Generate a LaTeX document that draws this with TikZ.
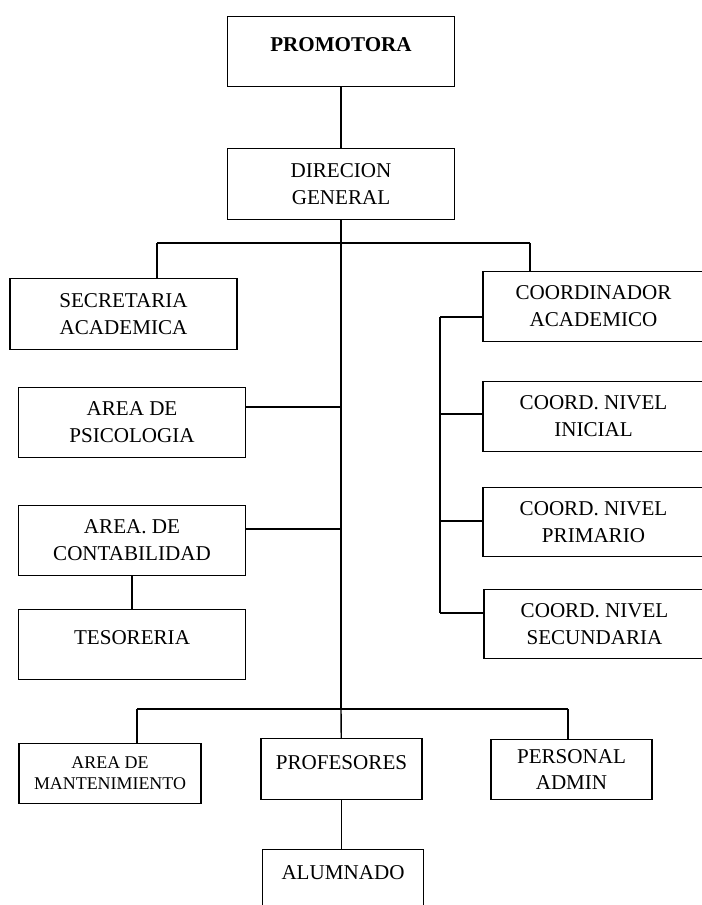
\documentclass[tikz,border=0pt]{standalone}
\usepackage{fontspec}
\setmainfont{Liberation Serif}

\tikzset{
	cargo/.style={rectangle, draw, align=center, line width=0.8pt,
		font=\fontsize{12}{15.3}\selectfont},
	ancho/.style={minimum width=4.54cm, minimum height=1.41cm},
	derecha/.style={minimum width=4.42cm, minimum height=1.39cm},
	abajo/.style={minimum width=3.22cm, minimum height=1.21cm},
	toptext/.style={text depth=7.5pt},
	enlace/.style={line width=0.8pt}
}

\begin{document}
\begin{tikzpicture}[x=0.02cm, y=-0.02cm]
		\clip (0,0) rectangle (702,905);

		\draw (341,51.5) node [cargo, ancho, toptext] (promotora) {\textbf{PROMOTORA}};
		\draw (341,184) node [cargo, ancho] (direcion) {DIRECION\\GENERAL};

		\draw (123.5,314) node [cargo, ancho] (secretaria) {SECRETARIA\\ACADEMICA};
		\draw (132,422.5) node [cargo, ancho] (psicologia) {AREA DE\\PSICOLOGIA};
		\draw (132,540.5) node [cargo, ancho] (contabilidad) {AREA. DE\\CONTABILIDAD};
		\draw (132,644.5) node [cargo, ancho, toptext] (tesoreria) {TESORERIA};

		\draw (593.5,306.5) node [cargo, derecha] (coordinador) {COORDINADOR\\ACADEMICO};
		\draw (593.5,416.5) node [cargo, derecha] (inicial) {COORD. NIVEL\\INICIAL};
		\draw (593.5,522) node [cargo, derecha] (primario) {COORD. NIVEL\\PRIMARIO};
		\draw (594.5,624) node [cargo, derecha] (secundaria) {COORD. NIVEL\\SECUNDARIA};

		\draw (110,773.5) node [cargo, abajo, minimum width=3.64cm,
			font=\fontsize{10.2}{12}\selectfont] (mantenimiento) {AREA DE\\MANTENIMIENTO};
		\draw (341.5,769) node [cargo, abajo, toptext] (profesores) {PROFESORES};
		\draw (571.5,769.5) node [cargo, abajo] (personal) {PERSONAL\\ADMIN};
		\draw (343,879.5) node [cargo, abajo, toptext] (alumnado) {ALUMNADO};

		% puntos de union
		\coordinate (bsec) at (157,243);
		\coordinate (bcoord) at (530,243);
		\coordinate (tpsi) at (341,407);
		\coordinate (tcont) at (341,529);
		\coordinate (bman) at (137,709);
		\coordinate (bprof) at (341,709);
		\coordinate (bper) at (568,709);

		\draw [enlace] (promotora) -- (direcion);
		\draw [enlace] (direcion) -- (bprof);
		\draw [enlace] (bsec) -- (bcoord);
		\draw [enlace] (bsec) -- (bsec |- secretaria.north);
		\draw [enlace] (bcoord) -- (bcoord |- coordinador.north);
		\draw [enlace] (tpsi) -- (tpsi -| psicologia.east);
		\draw [enlace] (tcont) -- (tcont -| contabilidad.east);
		\draw [enlace] (contabilidad) -- (tesoreria);

		\coordinate (rcoordinador) at (440,317);
		\coordinate (rinicial) at (440,414);
		\coordinate (rprimario) at (440,521);
		\coordinate (rsecundaria) at (440,613);
		\draw [enlace] (rcoordinador) -- (rsecundaria);
		\foreach \n in {coordinador, inicial, primario, secundaria}
			\draw [enlace] (r\n) -- (r\n -| \n.west);

		\draw [enlace] (bman) -- (bper);
		\draw [enlace] (bman) -- (bman |- mantenimiento.north);
		\draw [enlace] (bprof) -- (profesores);
		\draw [enlace] (bper) -- (bper |- personal.north);
		\draw [enlace] (profesores.south) -- (profesores.south |- alumnado.north);
	\end{tikzpicture}
\end{document}
